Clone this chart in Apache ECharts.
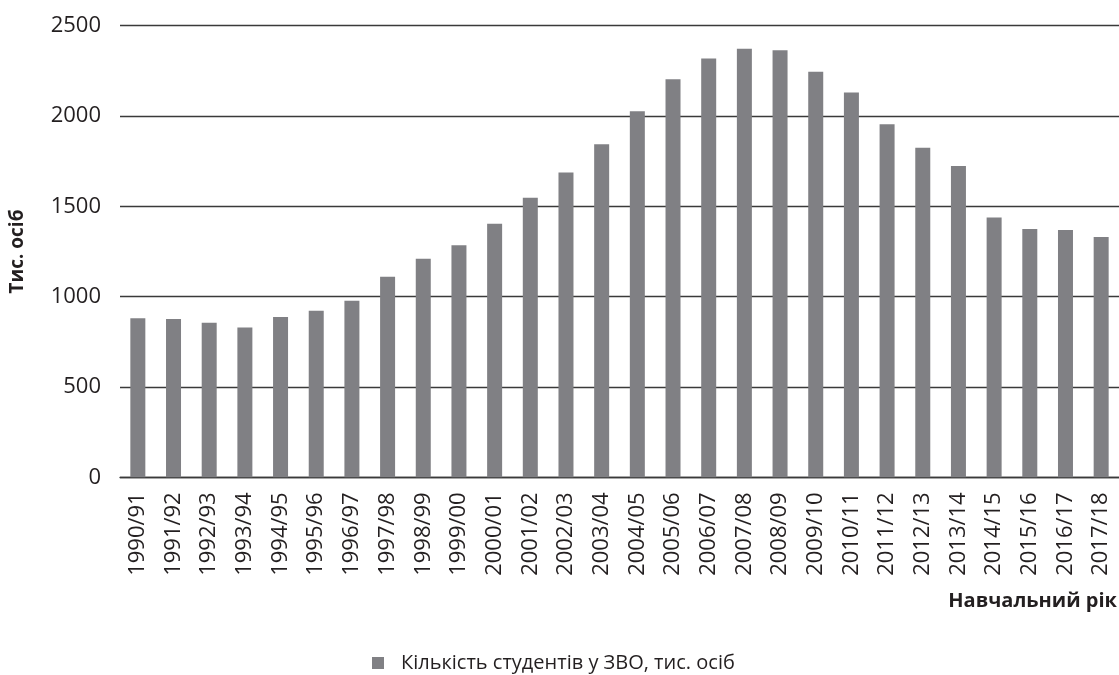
<!DOCTYPE html>
<html>
<head>
<meta charset="utf-8">
<style>
  html, body { margin: 0; padding: 0; background: #ffffff; }
  #chart { width: 1119px; height: 675px; }
</style>
<script src="https://cdn.jsdelivr.net/npm/echarts@6/dist/echarts.min.js"></script>
</head>
<body>
<div id="chart"></div>
<script>
// Academic years
const years = [
  '1990/91', '1991/92', '1992/93', '1993/94', '1994/95', '1995/96', '1996/97',
  '1997/98', '1998/99', '1999/00', '2000/01', '2001/02', '2002/03', '2003/04',
  '2004/05', '2005/06', '2006/07', '2007/08', '2008/09', '2009/10', '2010/11',
  '2011/12', '2012/13', '2013/14', '2014/15', '2015/16', '2016/17', '2017/18'
];

// Number of students in higher education institutions, thousand persons
const students = [
  881, 876, 856, 829, 888, 922, 977,
  1110, 1210, 1285, 1403, 1548, 1687, 1844,
  2027, 2204, 2318, 2373, 2364, 2245, 2130,
  1955, 1825, 1724, 1438, 1375, 1369, 1330
];

const seriesName = 'Кількість студентів у ЗВО, тис. осіб';
const yAxisTitle = 'Тис. осіб';
const xAxisTitle = 'Навчальний рік';

const FONT = '"Open Sans", "Noto Sans", sans-serif';
const TEXT = '#231f20';
const LINE = '#3a3a3a';

const chart = echarts.init(document.getElementById('chart'));
chart.setOption({
  animation: false,
  textStyle: { fontFamily: FONT, color: TEXT },
  grid: { left: 112, right: 0, top: 25.7, bottom: 197.7, containLabel: false },
  legend: {
    data: [seriesName],
    left: 372,
    top: 653,
    padding: 0,
    icon: 'rect',
    itemWidth: 12,
    itemHeight: 12,
    textStyle: {
      fontFamily: FONT,
      fontSize: 20,
      lineHeight: 20,
      color: TEXT,
      padding: [0, 0, 0, 12]
    }
  },
  xAxis: {
    type: 'category',
    data: years,
    axisTick: { show: false },
    axisLine: { show: true, lineStyle: { color: LINE, width: 1.3 } },
    axisLabel: {
      rotate: 90,
      interval: 0,
      margin: 15,
      fontFamily: FONT,
      fontSize: 22,
      color: TEXT
    }
  },
  yAxis: {
    type: 'value',
    min: 0,
    max: 2500,
    interval: 500,
    name: yAxisTitle,
    nameLocation: 'middle',
    nameRotate: 90,
    nameGap: 93,
    nameTextStyle: { fontFamily: FONT, fontSize: 19, fontWeight: 'bold', color: TEXT },
    axisLine: { show: false },
    axisTick: { show: false },
    axisLabel: {
      margin: 19,
      fontFamily: FONT,
      fontSize: 22,
      color: TEXT,
      formatter: (v) => String(v)
    },
    splitLine: { show: true, lineStyle: { color: LINE, width: 1.3 } }
  },
  graphic: [{
    type: 'text',
    right: 2,
    top: 591,
    style: {
      text: xAxisTitle,
      font: 'bold 20px ' + FONT,
      fill: TEXT
    }
  }],
  series: [{
    name: seriesName,
    type: 'bar',
    data: students,
    barWidth: 15,
    itemStyle: { color: '#808084' }
  }]
});
</script>
</body>
</html>
